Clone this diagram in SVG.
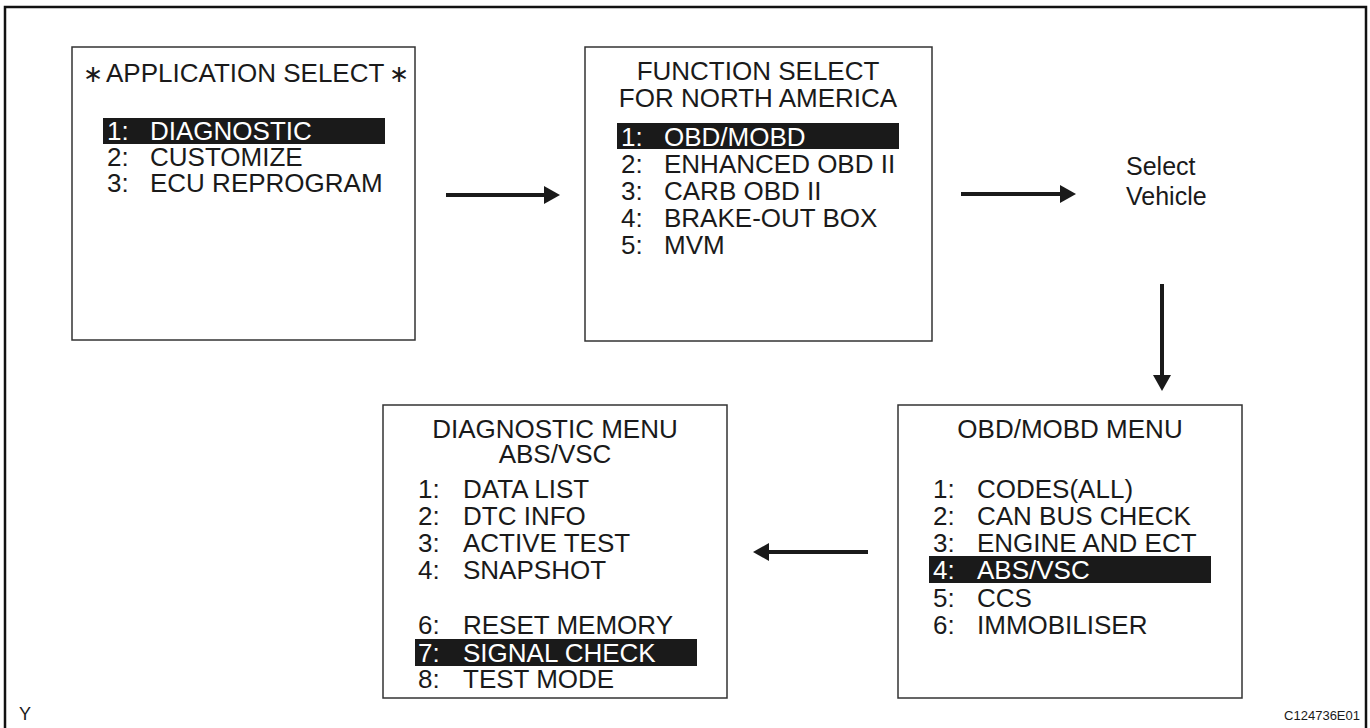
<svg xmlns="http://www.w3.org/2000/svg" width="1370" height="728" viewBox="0 0 1370 728">
<defs>
<style>
.frame{fill:none;stroke:#111;stroke-width:2.5}
.box{fill:#fff;stroke:#333;stroke-width:1.5}
.t{font-family:"Liberation Sans",Arial,sans-serif;font-size:26px;fill:#1a1a1a}
.c{text-anchor:middle}
.hl{fill:#1a1a1a}
.w{fill:#fff}
.small{font-family:"Liberation Sans",Arial,sans-serif;font-size:13px;fill:#1a1a1a}
.arr{stroke:#1a1a1a;stroke-width:4;fill:none;marker-end:url(#ah)}
</style>
<marker id="ah" markerUnits="userSpaceOnUse" markerWidth="16" markerHeight="18" refX="2" refY="9" orient="auto">
<path d="M0,0 L16,9 L0,18 Z" fill="#1a1a1a"/>
</marker>
</defs>
<rect width="1370" height="728" fill="#fff"/>
<path class="frame" d="M5,728 V7 H1366 V728"/>

<g id="application-select">
<rect class="box" x="72" y="47" width="343" height="293"/>
<text class="t" y="82"><tspan x="93" text-anchor="middle" font-size="24">∗</tspan><tspan x="106">APPLICATION SELECT</tspan><tspan x="399" text-anchor="middle" font-size="24">∗</tspan></text>
<rect class="hl" x="103" y="118" width="282" height="26"/>
<text class="t w" y="140"><tspan x="107">1:</tspan><tspan x="150">DIAGNOSTIC</tspan></text>
<text class="t" y="166"><tspan x="107">2:</tspan><tspan x="150">CUSTOMIZE</tspan></text>
<text class="t" y="192"><tspan x="107">3:</tspan><tspan x="150">ECU REPROGRAM</tspan></text>
</g>

<g id="function-select">
<rect class="box" x="585" y="47" width="347" height="294"/>
<text class="t c" x="758" y="80">FUNCTION SELECT</text>
<text class="t c" x="758" y="107">FOR NORTH AMERICA</text>
<rect class="hl" x="617" y="123" width="282" height="26"/>
<text class="t w" y="146"><tspan x="621">1:</tspan><tspan x="664">OBD/MOBD</tspan></text>
<text class="t" y="173"><tspan x="621">2:</tspan><tspan x="664">ENHANCED OBD II</tspan></text>
<text class="t" y="200"><tspan x="621">3:</tspan><tspan x="664">CARB OBD II</tspan></text>
<text class="t" y="227"><tspan x="621">4:</tspan><tspan x="664">BRAKE-OUT BOX</tspan></text>
<text class="t" y="254"><tspan x="621">5:</tspan><tspan x="664">MVM</tspan></text>
</g>

<g id="select-vehicle">
<text class="t" style="font-size:25px"><tspan x="1126" y="175">Select</tspan><tspan x="1126" y="205">Vehicle</tspan></text>
</g>

<g id="obd-mobd-menu">
<rect class="box" x="898" y="405" width="344" height="293"/>
<text class="t c" x="1070" y="438">OBD/MOBD MENU</text>
<text class="t" y="498"><tspan x="933">1:</tspan><tspan x="977">CODES(ALL)</tspan></text>
<text class="t" y="525"><tspan x="933">2:</tspan><tspan x="977">CAN BUS CHECK</tspan></text>
<text class="t" y="552"><tspan x="933">3:</tspan><tspan x="977">ENGINE AND ECT</tspan></text>
<rect class="hl" x="929" y="556" width="282" height="27"/>
<text class="t w" y="579"><tspan x="933">4:</tspan><tspan x="977">ABS/VSC</tspan></text>
<text class="t" y="607"><tspan x="933">5:</tspan><tspan x="977">CCS</tspan></text>
<text class="t" y="634"><tspan x="933">6:</tspan><tspan x="977">IMMOBILISER</tspan></text>
</g>

<g id="diagnostic-menu">
<rect class="box" x="383" y="405" width="344" height="293"/>
<text class="t c" x="555" y="438">DIAGNOSTIC MENU</text>
<text class="t c" x="555" y="463">ABS/VSC</text>
<text class="t" y="498"><tspan x="418">1:</tspan><tspan x="463">DATA LIST</tspan></text>
<text class="t" y="525"><tspan x="418">2:</tspan><tspan x="463">DTC INFO</tspan></text>
<text class="t" y="552"><tspan x="418">3:</tspan><tspan x="463">ACTIVE TEST</tspan></text>
<text class="t" y="579"><tspan x="418">4:</tspan><tspan x="463">SNAPSHOT</tspan></text>
<text class="t" y="634"><tspan x="418">6:</tspan><tspan x="463">RESET MEMORY</tspan></text>
<rect class="hl" x="415" y="639" width="282" height="27"/>
<text class="t w" y="662"><tspan x="418">7:</tspan><tspan x="463">SIGNAL CHECK</tspan></text>
<text class="t" y="688"><tspan x="418">8:</tspan><tspan x="463">TEST MODE</tspan></text>
</g>

<g id="connectors">
<line class="arr" x1="446" y1="195" x2="546" y2="195"/>
<line class="arr" x1="961" y1="194" x2="1062" y2="194"/>
<line class="arr" x1="1162" y1="284" x2="1162" y2="377"/>
<line class="arr" x1="868" y1="552" x2="767" y2="552"/>
</g>

<text class="small" x="19" y="720" style="font-size:18px">Y</text>
<text class="small" x="1360" y="720" text-anchor="end">C124736E01</text>
</svg>
